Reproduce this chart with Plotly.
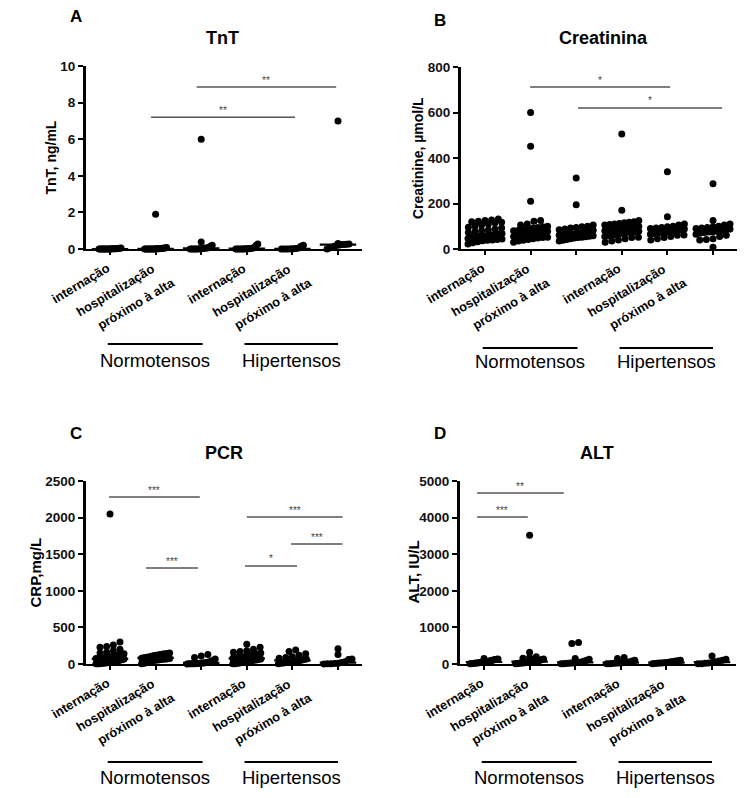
import numpy as np
import plotly.graph_objects as go

# ---------------- data ----------------
tick_labels = ["internação", "hospitalização", "próximo à alta",
               "internação", "hospitalização", "próximo à alta"]
group_labels = ["Normotensos", "Hipertensos"]

# A: TnT, ng/mL
tnt_n_int = [0.0, 0.0, 0.01, 0.0, 0.02, 0.0, 0.03, 0.0, 0.01, 0.0, 0.05, 0.0, 0.02, 0.0, 0.04, 0.0, 0.0, 0.01, 0.03, 0.0]
tnt_n_hosp = [1.9, 0.08, 0.05, 0.0, 0.02, 0.0, 0.03, 0.0, 0.01, 0.0, 0.06, 0.0, 0.02, 0.0, 0.04, 0.0, 0.0, 0.01, 0.03, 0.0]
tnt_n_prox = [6.0, 0.38, 0.2, 0.15, 0.1, 0.05, 0.03, 0.0, 0.02, 0.0, 0.04, 0.0, 0.01, 0.0, 0.06, 0.0, 0.0]
tnt_h_int = [0.27, 0.2, 0.1, 0.05, 0.02, 0.0, 0.03, 0.0, 0.01, 0.0, 0.04, 0.0, 0.0, 0.02, 0.0]
tnt_h_hosp = [0.2, 0.15, 0.05, 0.0, 0.02, 0.0, 0.01, 0.0, 0.03, 0.0]
tnt_h_prox = [7.0, 0.3, 0.28, 0.26, 0.25, 0.25, 0.22, 0.2, 0.15, 0.1, 0.05, 0.0]

# B: Creatinine, umol/L
cre_n_int = [132, 128, 125, 122, 120, 118, 115, 110, 105, 100, 96, 92, 88, 84, 80, 76, 72, 68, 66, 64, 62, 60, 58, 56,
             55, 53, 50, 48, 46, 44, 42, 40, 38, 36, 32, 28, 22]
cre_n_hosp = [600, 452, 210, 125, 122, 110, 105, 100, 98, 95, 92, 90, 86, 82, 80, 78, 76, 74, 72, 71, 70, 68, 66, 64, 62,
              60, 58, 55, 52, 50, 48, 45, 42, 38, 35, 30]
cre_n_prox = [312, 195, 105, 100, 98, 95, 92, 88, 85, 82, 78, 75, 72, 70, 68, 66, 65, 64, 62, 60, 58, 56, 54, 52, 50, 48,
              45, 42, 38, 35]
cre_h_int = [506, 170, 125, 120, 118, 115, 112, 110, 108, 105, 100, 98, 95, 92, 90, 88, 86, 84, 80, 78, 76, 75, 74, 72,
             70, 68, 65, 62, 60, 58, 55, 52, 50, 45, 40, 35, 30]
cre_h_hosp = [340, 142, 110, 105, 100, 98, 95, 92, 90, 88, 85, 82, 80, 78, 76, 75, 74, 72, 70, 68, 65, 62, 60, 55, 50,
              45, 40]
cre_h_prox = [287, 125, 110, 105, 100, 98, 95, 92, 90, 88, 85, 80, 78, 76, 75, 72, 70, 65, 60, 55, 45, 42, 40, 8]

# C: CRP, mg/L
crp_n_int = [2050, 300, 260, 240, 230, 200, 180, 160, 150, 140, 130, 120, 110, 100, 95, 90, 80, 75, 70, 60, 55, 50, 45,
             40, 35, 30, 28, 25, 20, 18, 15, 12, 10, 8, 5, 3, 2]
crp_n_hosp = [150, 145, 140, 135, 130, 125, 120, 115, 110, 100, 95, 90, 85, 80, 75, 70, 65, 60, 55, 50, 40, 30, 20, 10, 5]
crp_n_prox = [130, 110, 90, 70, 50, 40, 30, 25, 20, 15, 12, 10, 8, 6, 5, 4, 3, 2, 1]
crp_h_int = [270, 230, 200, 180, 170, 160, 150, 140, 130, 120, 100, 90, 80, 70, 60, 55, 50, 45, 40, 30, 25, 20, 15, 10,
             5, 2]
crp_h_hosp = [190, 170, 140, 120, 100, 90, 80, 70, 60, 50, 45, 40, 35, 30, 25, 20, 15, 10, 5]
crp_h_prox = [210, 130, 70, 60, 30, 20, 10, 8, 5, 3, 1]

# D: ALT, IU/L
alt_n_int = [150, 140, 130, 120, 110, 100, 90, 80, 70, 60, 55, 50, 45, 40, 35, 30, 25, 20, 15, 10, 5]
alt_n_hosp = [3520, 320, 200, 180, 160, 140, 120, 100, 90, 80, 70, 60, 55, 50, 45, 40, 35, 30, 25, 20, 15, 10]
alt_n_prox = [590, 560, 150, 130, 100, 80, 60, 50, 40, 35, 30, 25, 20, 15, 10, 5]
alt_h_int = [180, 150, 100, 80, 60, 50, 40, 35, 30, 25, 20, 15, 10, 5]
alt_h_hosp = [100, 90, 80, 70, 60, 50, 40, 35, 30, 25, 20, 15, 10]
alt_h_prox = [220, 130, 100, 80, 60, 40, 30, 20, 10, 5]

# significance comparisons: (from category, to category, height, label)
sig_tnt = [(0.9, 4.06, 7.2, "**"), (1.9, 4.96, 8.85, "**")]
sig_cre = [(0.99, 4.06, 712, "*"), (2.04, 5.2, 620, "*")]
sig_crp = [(-0.02, 1.97, 2281, "***"), (0.79, 1.93, 1311, "***"), (3.0, 5.1, 2008, "***"),
           (3.97, 5.1, 1639, "***"), (2.96, 4.1, 1339, "*")]
sig_alt = [(-0.15, 1.75, 4672, "**"), (-0.15, 0.96, 4016, "***")]

# ---------------- layout geometry ----------------
W, H = 750, 798
XR = [-0.53, 5.52]
CAT_PX = 45.6
MARK = 7.0
# pixel offset of each rotated category label centre from its tick (dx, dy below axis)
LABEL_OFFSETS = [(-30, 34), (-41, 41), (-65, 54)] * 2

panels = [
    dict(letter="A", title="TnT", ytitle="TnT, ng/mL", groups=[tnt_n_int, tnt_n_hosp, tnt_n_prox, tnt_h_int, tnt_h_hosp, tnt_h_prox],
         ymax=10, dtick=2, cat0=110, ytop=66, ybot=249, sig=sig_tnt, half=11,
         letter_xy=(76, 16), title_xy=(222, 38), ytitle_x=50, ysize=14,
         gline=344, gtext=360),
    dict(letter="B", title="Creatinina", ytitle="Creatinine, µmol/L", groups=[cre_n_int, cre_n_hosp, cre_n_prox, cre_h_int, cre_h_hosp, cre_h_prox],
         ymax=800, dtick=200, cat0=485, ytop=67, ybot=249, sig=sig_cre, half=17,
         letter_xy=(440, 20), title_xy=(603, 38), ytitle_x=418, ysize=14,
         gline=348, gtext=362),
    dict(letter="C", title="PCR", ytitle="CRP,mg/L", groups=[crp_n_int, crp_n_hosp, crp_n_prox, crp_h_int, crp_h_hosp, crp_h_prox],
         ymax=2500, dtick=500, cat0=110, ytop=481, ybot=664, sig=sig_crp, half=14,
         letter_xy=(76, 433), title_xy=(224, 453), ytitle_x=35, ysize=15,
         gline=762, gtext=777),
    dict(letter="D", title="ALT", ytitle="ALT, IU/L", groups=[alt_n_int, alt_n_hosp, alt_n_prox, alt_h_int, alt_h_hosp, alt_h_prox],
         ymax=5000, dtick=1000, cat0=484, ytop=481, ybot=664, sig=sig_alt, half=14,
         letter_xy=(440, 433), title_xy=(597, 453), ytitle_x=413, ysize=15,
         gline=762, gtext=777),
]

FONT = "Liberation Sans, Arial, sans-serif"


def px_x(p):
    return p / W


def px_y(p):
    return 1 - p / H


def swarm(vals, y_px_per_unit, maxhalf):
    """Prism-like column scatter: rows by pixel height, points spread sideways."""
    v = np.sort(np.asarray(vals, dtype=float))
    xs, ys = [], []
    i = 0
    while i < len(v):
        j = i
        while j + 1 < len(v) and (v[j + 1] - v[i]) * y_px_per_unit < MARK * 0.75:
            j += 1
        row = v[i:j + 1]
        n = len(row)
        sp = MARK * 0.95 if n == 1 else min(MARK * 0.95, 2 * maxhalf / (n - 1))
        for k, val in enumerate(row):
            xs.append((k - (n - 1) / 2) * sp / CAT_PX)
            ys.append(val)
        i = j + 1
    return np.array(xs), np.array(ys)


fig = go.Figure()
annotations = []
shapes = []

for pi, p in enumerate(panels):
    ax = "" if pi == 0 else str(pi + 1)
    xref, yref = "x" + ax, "y" + ax
    y_px_unit = (p["ybot"] - p["ytop"]) / p["ymax"]
    left = p["cat0"] + XR[0] * CAT_PX
    right = p["cat0"] + XR[1] * CAT_PX

    for ci, vals in enumerate(p["groups"]):
        dx, yy = swarm(vals, y_px_unit, p["half"])
        fig.add_trace(go.Scatter(x=ci + dx, y=yy, mode="markers", xaxis=xref, yaxis=yref,
                                 marker=dict(size=MARK, color="black", line=dict(width=0)),
                                 cliponaxis=False, showlegend=False, hoverinfo="y"))
        med = float(np.median(vals))
        fig.add_trace(go.Scatter(x=[ci - 0.4, ci + 0.4], y=[med, med], mode="lines", xaxis=xref, yaxis=yref,
                                 line=dict(color="black", width=2.2), cliponaxis=False,
                                 showlegend=False, hoverinfo="skip"))

    axis_common = dict(showgrid=False, zeroline=False, showline=True, linecolor="black",
                       ticks="outside", tickcolor="black", automargin=False)
    fig.update_layout(**{
        "xaxis" + ax: dict(domain=[px_x(left), px_x(right)], range=XR, anchor=yref,
                           tickvals=list(range(len(tick_labels))), showticklabels=False,
                           ticklen=4, tickwidth=1.5, linewidth=2, **axis_common),
        "yaxis" + ax: dict(domain=[px_y(p["ybot"]), px_y(p["ytop"])], range=[0, p["ymax"]], anchor=xref,
                           dtick=p["dtick"], ticklen=5, tickwidth=2, linewidth=2.8,
                           tickfont=dict(family=FONT, size=13.5, color="#111", weight="bold"), **axis_common),
    })

    # rotated category labels (staggered like the original)
    for ci, (lab, (ox, oy)) in enumerate(zip(tick_labels, LABEL_OFFSETS)):
        annotations.append(dict(x=ci, y=px_y(p["ybot"]), xref=xref, yref="paper", text="<b>%s</b>" % lab,
                                showarrow=False, textangle=-31, xshift=ox, yshift=-oy,
                                xanchor="center", yanchor="middle",
                                font=dict(family=FONT, size=12.8, color="black")))

    # significance bars
    for (a, b, h, lab) in p["sig"]:
        shapes.append(dict(type="line", xref=xref, yref=yref, x0=a, x1=b, y0=h, y1=h,
                           line=dict(color="#555", width=1.6)))
        annotations.append(dict(x=(a + b) / 2, y=h, xref=xref, yref=yref, text=lab, showarrow=False,
                                yshift=7, font=dict(family=FONT, size=10, color="#444")))

    # group underline + label
    for (g0, g1), name in zip([(-0.05, 2.03), (2.95, 5.0)], group_labels):
        shapes.append(dict(type="line", xref=xref, yref="paper", x0=g0, x1=g1,
                           y0=px_y(p["gline"]), y1=px_y(p["gline"]), line=dict(color="black", width=2)))
        annotations.append(dict(x=(g0 + g1) / 2, y=px_y(p["gtext"]), xref=xref, yref="paper", text=name,
                                showarrow=False, font=dict(family=FONT, size=18.5, color="black"),
                                xanchor="center", yanchor="middle"))

    # titles
    annotations.append(dict(x=px_x(p["letter_xy"][0]), y=px_y(p["letter_xy"][1]), xref="paper", yref="paper",
                            text="<b>%s</b>" % p["letter"], showarrow=False,
                            font=dict(family=FONT, size=17, color="black"), xanchor="center", yanchor="middle"))
    annotations.append(dict(x=px_x(p["title_xy"][0]), y=px_y(p["title_xy"][1]), xref="paper", yref="paper",
                            text="<b>%s</b>" % p["title"], showarrow=False,
                            font=dict(family=FONT, size=18, color="black"), xanchor="center", yanchor="middle"))
    annotations.append(dict(x=px_x(p["ytitle_x"]), y=px_y((p["ytop"] + p["ybot"]) / 2), xref="paper", yref="paper",
                            text="<b>%s</b>" % p["ytitle"], showarrow=False, textangle=-90,
                            font=dict(family=FONT, size=p["ysize"], color="black"),
                            xanchor="center", yanchor="middle"))

fig.update_layout(width=W, height=H, margin=dict(l=0, r=0, t=0, b=0, autoexpand=False),
                  paper_bgcolor="white", plot_bgcolor="white", showlegend=False,
                  annotations=annotations, shapes=shapes)

fig.write_html("out.html", config={"displayModeBar": False},
               post_script="document.body.style.margin='0';document.body.style.overflow='hidden';")
